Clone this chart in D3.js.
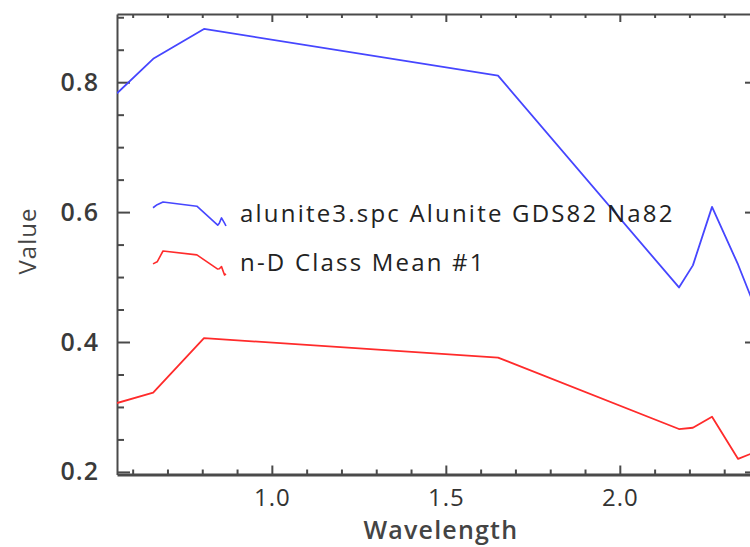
<!DOCTYPE html>
<html>
<head>
<meta charset="utf-8">
<script src="https://cdn.jsdelivr.net/npm/d3@7/dist/d3.min.js"></script>
<style>
  html, body { margin: 0; padding: 0; background: #fff; }
  svg { display: block; }
  text { font-family: "Open Sans", "DejaVu Sans", sans-serif; }
</style>
</head>
<body>
<svg id="chart" width="750" height="547"></svg>
<script>
// Band centres (micrometres) shared by both spectra
const wavelengths = [0.555, 0.659, 0.805, 1.65, 2.17, 2.21, 2.265, 2.34, 2.377];
// Library spectrum: alunite3.spc Alunite GDS82 Na82
const aluniteValues = [0.783, 0.836, 0.882, 0.810, 0.484, 0.518, 0.608, 0.519, 0.469];
// n-D Class Mean #1
const classMeanValues = [0.306, 0.322, 0.406, 0.376, 0.266, 0.268, 0.285, 0.220, 0.228];

const seriesNames = ["alunite3.spc Alunite GDS82 Na82", "n-D Class Mean #1"];
const seriesColors = ["#4646ff", "#ff2b2b"];

const xTickValues = [1.0, 1.5, 2.0];
const yTickValues = [0.2, 0.4, 0.6, 0.8];
const xTitle = "Wavelength";
const yTitle = "Value";

const series = [
  { name: seriesNames[0], color: seriesColors[0], values: aluniteValues },
  { name: seriesNames[1], color: seriesColors[1], values: classMeanValues }
];

const svg = d3.select("#chart");
const plot = { left: 117, right: 751, top: 14, bottom: 474.5 };

const x = d3.scaleLinear().domain([0.555, 2.377]).range([plot.left, plot.right]);
const y = d3.scaleLinear().domain([0.196, 0.905]).range([plot.bottom, plot.top]);

const axisColor = "#4a4a4a";
const minorX = d3.range(0.6, 2.35, 0.1).map(v => +v.toFixed(2)).filter(v => !xTickValues.some(t => Math.abs(t - v) < 1e-6));
const minorY = d3.range(0.25, 0.91, 0.05).map(v => +v.toFixed(2)).filter(v => !yTickValues.some(t => Math.abs(t - v) < 1e-6));

// Clip data lines to the plot frame
svg.append("defs").append("clipPath").attr("id", "plotClip")
  .append("rect")
  .attr("x", plot.left).attr("y", plot.top)
  .attr("width", plot.right - plot.left).attr("height", plot.bottom - plot.top);

function styleAxis(g, width) {
  g.select(".domain").attr("stroke", axisColor).attr("stroke-width", width);
  g.selectAll(".tick line").attr("stroke", axisColor).attr("stroke-width", 2);
}

// Bottom axis: labelled majors plus minor ticks, all pointing inward
const bottomMinor = svg.append("g").attr("transform", `translate(0,${plot.bottom})`)
  .call(d3.axisBottom(x).tickValues(minorX).tickSize(-5).tickFormat("").tickSizeOuter(0));
bottomMinor.select(".domain").remove();
bottomMinor.selectAll(".tick line").attr("stroke", axisColor).attr("stroke-width", 2);

const bottom = svg.append("g").attr("transform", `translate(0,${plot.bottom})`)
  .call(d3.axisBottom(x).tickValues(xTickValues).tickSize(-9).tickSizeOuter(0).tickPadding(19)
    .tickFormat(d3.format(".1f")));
styleAxis(bottom, 3);
bottom.selectAll(".tick text")
  .attr("fill", "#333").attr("font-size", 24).attr("letter-spacing", 1)
  .attr("font-family", "Open Sans, sans-serif")
  .attr("dy", "0.5em");

// Top axis (frame) with inward ticks
const topMinor = svg.append("g").attr("transform", `translate(0,${plot.top})`)
  .call(d3.axisTop(x).tickValues(minorX).tickSize(-4).tickFormat("").tickSizeOuter(0));
topMinor.select(".domain").remove();
topMinor.selectAll(".tick line").attr("stroke", axisColor).attr("stroke-width", 2);
const topAxis = svg.append("g").attr("transform", `translate(0,${plot.top})`)
  .call(d3.axisTop(x).tickValues(xTickValues).tickSize(-8).tickFormat("").tickSizeOuter(0));
styleAxis(topAxis, 2);

// Left axis
const leftMinor = svg.append("g").attr("transform", `translate(${plot.left},0)`)
  .call(d3.axisLeft(y).tickValues(minorY).tickSize(-7).tickFormat("").tickSizeOuter(0));
leftMinor.select(".domain").remove();
leftMinor.selectAll(".tick line").attr("stroke", axisColor).attr("stroke-width", 2);

const left = svg.append("g").attr("transform", `translate(${plot.left},0)`)
  .call(d3.axisLeft(y).tickValues(yTickValues).tickSize(-13).tickSizeOuter(0).tickPadding(18)
    .tickFormat(d3.format(".1f")));
styleAxis(left, 2);
left.selectAll(".tick text")
  .attr("fill", "#3a3a3a").attr("font-size", 25).attr("font-weight", 600)
  .attr("letter-spacing", 1)
  .attr("font-family", "Open Sans, sans-serif");

// Right axis (frame)
const right = svg.append("g").attr("transform", `translate(${plot.right},0)`)
  .call(d3.axisRight(y).tickValues(yTickValues).tickSize(-6).tickFormat("").tickSizeOuter(0));
styleAxis(right, 2);

// Axis titles
svg.append("text")
  .attr("x", (x(1.0) + x(2.0)) / 2 - 5).attr("y", 539)
  .attr("text-anchor", "middle")
  .attr("fill", "#444").attr("font-size", 25).attr("font-weight", 600)
  .attr("letter-spacing", 1.2)
  .text(xTitle);

svg.append("text")
  .attr("transform", "translate(36,241) rotate(-90)")
  .attr("text-anchor", "middle")
  .attr("fill", "#444").attr("font-size", 24).attr("letter-spacing", 1)
  .text(yTitle);

// Spectra
const line = d3.line().x((d, i) => x(wavelengths[i])).y(d => y(d));
svg.append("g").attr("clip-path", "url(#plotClip)")
  .selectAll("path").data(series).join("path")
  .attr("fill", "none")
  .attr("stroke", d => d.color)
  .attr("stroke-width", 1.8)
  .attr("stroke-linejoin", "round")
  .attr("d", d => line(d.values));

// Legend: each entry shows a thumbnail of its own spectrum
const legendRows = [222, 271];
const legend = svg.append("g");
series.forEach((s, i) => {
  const base = legendRows[i];
  const ix = d3.scaleLinear().domain(d3.extent(wavelengths)).range([153, 226]);
  const iy = d3.scaleLinear().domain(d3.extent(s.values)).range([base + 4, base - 20]);
  const thumb = d3.line().x((d, j) => ix(wavelengths[j])).y(d => iy(d));
  legend.append("path")
    .attr("fill", "none").attr("stroke", s.color).attr("stroke-width", 1.6)
    .attr("stroke-linejoin", "round")
    .attr("d", thumb(s.values));
  legend.append("text")
    .attr("x", 240).attr("y", base)
    .attr("fill", "#222").attr("font-size", 24).attr("letter-spacing", 2.2)
    .text(s.name);
});
</script>
</body>
</html>
